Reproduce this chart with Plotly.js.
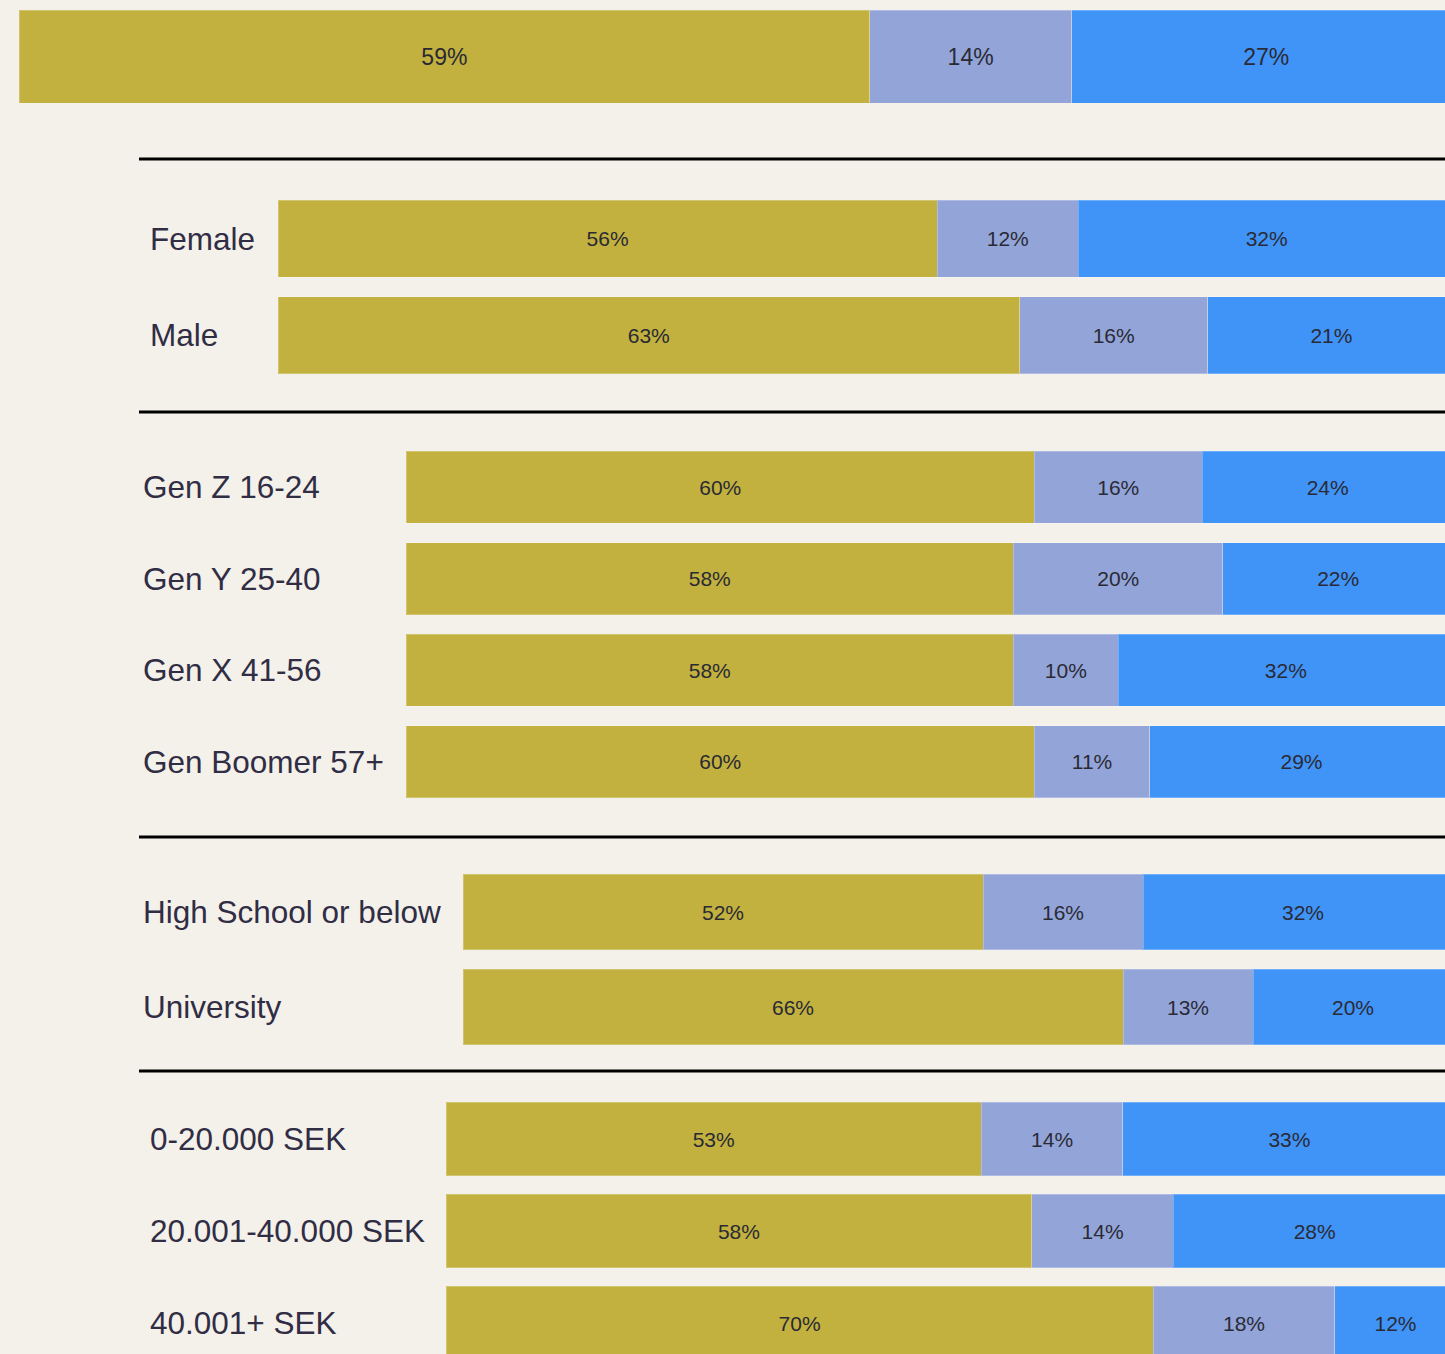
<!DOCTYPE html>
<html>
<head>
<meta charset="utf-8">
<script src="https://cdn.plot.ly/plotly-3.0.1.min.js"></script>
<style>html,body{margin:0;padding:0;background:#F4F1EA;}</style>
</head>
<body>
<div id="chart" style="width:1445px;height:1354px;"></div>
<script>
// ---- data ----
const totalCats = ["Total"];
const totalA = [59], totalB = [14], totalC = [27];

const genderCats = ["Female", "Male"];
const genderA = [56, 63], genderB = [12, 16], genderC = [32, 21];

const ageCats = ["Gen Z 16-24", "Gen Y 25-40", "Gen X 41-56", "Gen Boomer 57+"];
const ageA = [60, 58, 58, 60], ageB = [16, 20, 10, 11], ageC = [24, 22, 32, 29];

const eduCats = ["High School or below", "University"];
const eduA = [52, 66], eduB = [16, 13], eduC = [32, 20];

const incCats = ["0-20.000 SEK", "20.001-40.000 SEK", "40.001+ SEK"];
const incA = [53, 58, 70], incB = [14, 14, 18], incC = [33, 28, 12];

// ---- styling / layout ----
const W = 1445, H = 1354;
const colors = ["#C2B13E", "#93A5D8", "#4094F7"];
const py = p => 1 - p / H;   // pixel row -> paper fraction
const px = p => p / W;

// xmax: visible part of the axis (the chart is cropped at the right edge)
const groups = [
  {cats: totalCats, vals: [totalA, totalB, totalC], x0: 19, xmax: 98.9, top: 10, bottom: 103, pitch: 93, width: 1.0, fs: 23, lab: null},
  {cats: genderCats, vals: [genderA, genderB, genderC], x0: 278, xmax: 99.15, top: 190.75, bottom: 383.25, pitch: 96.25, width: 0.80, fs: 21, lab: 148},
  {cats: ageCats, vals: [ageA, ageB, ageC], x0: 406, xmax: 99.2, top: 441.2, bottom: 807.8, pitch: 91.65, width: 0.786, fs: 21, lab: 141},
  {cats: eduCats, vals: [eduA, eduB, eduC], x0: 463, xmax: 98.2, top: 864.5, bottom: 1054.5, pitch: 95, width: 0.79, fs: 21, lab: 141},
  {cats: incCats, vals: [incA, incB, incC], x0: 446, xmax: 98.9, top: 1093, bottom: 1354, pitch: 92, width: 0.795, fs: 21, lab: 148}
];

const traces = [];
const layout = {
  width: W, height: H,
  margin: {l: 0, r: 0, t: 0, b: 0},
  paper_bgcolor: "#F4F1EA",
  plot_bgcolor: "rgba(0,0,0,0)",
  barmode: "stack",
  showlegend: false,
  font: {family: "Liberation Sans, Arial, sans-serif", color: "#2a2a35"},
  annotations: [],
  shapes: []
};

groups.forEach((g, i) => {
  const n = i + 1;
  const xa = n === 1 ? "x" : "x" + n;
  const ya = n === 1 ? "y" : "y" + n;
  const span = (g.bottom - g.top) / g.pitch;
  g.vals.forEach((v, k) => {
    traces.push({
      type: "bar", orientation: "h",
      y: g.cats, x: v,
      xaxis: xa, yaxis: ya,
      width: g.width,
      marker: {color: colors[k], line: {width: 1, color: "rgba(255,255,255,0.25)"}},
      text: v.map(d => d + "%"),
      textposition: "inside",
      insidetextanchor: "middle",
      textangle: 0,
      cliponaxis: true,
      constraintext: "none",
      textfont: {size: g.fs, color: "#2a2a35", family: "Liberation Sans, Arial, sans-serif"},
      hoverinfo: "skip"
    });
  });
  layout[n === 1 ? "xaxis" : "xaxis" + n] = {
    domain: [px(g.x0), 1], range: [0, g.xmax], anchor: ya,
    visible: false, fixedrange: true
  };
  layout[n === 1 ? "yaxis" : "yaxis" + n] = {
    domain: [py(g.bottom), py(g.top)], range: [span - 0.5, -0.5],
    type: "category", anchor: xa, visible: false, fixedrange: true
  };
  if (g.lab !== null) {
    g.cats.forEach(c => {
      layout.annotations.push({
        xref: "paper", yref: ya, x: px(g.lab), y: c,
        text: c, showarrow: false, xanchor: "left", yanchor: "middle",
        font: {size: 31.5, color: "#302d45", family: "Liberation Sans, Arial, sans-serif"}
      });
    });
  }
});

[159, 412, 837, 1071].forEach(r => {
  layout.shapes.push({
    type: "line", xref: "paper", yref: "paper",
    x0: px(139), x1: 1, y0: py(r), y1: py(r),
    line: {color: "#000000", width: 3}
  });
});

Plotly.newPlot("chart", traces, layout, {displayModeBar: false, staticPlot: true});
</script>
</body>
</html>
